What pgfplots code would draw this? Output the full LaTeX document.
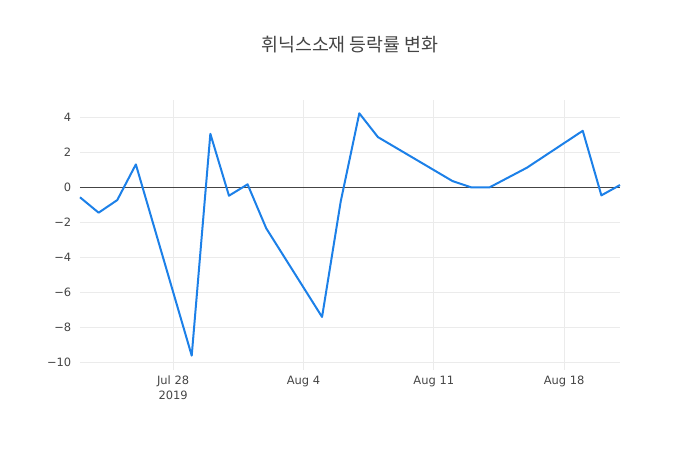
\documentclass[border=0pt]{standalone}
\usepackage{fontspec}
\setmainfont{DejaVu Sans}
\newfontfamily\cjk{Noto Sans CJK KR}
\usepackage{pgfplots}
\pgfplotsset{compat=1.18}
\definecolor{linec}{RGB}{28,128,232}
\definecolor{txt}{RGB}{68,68,68}
\definecolor{gridc}{RGB}{235,235,235}
\begin{document}
\begin{tikzpicture}
% 1px = 0.75pt; page 700x450px, plot area 540x270px at (80,80)
\useasboundingbox (-60pt,-60pt) rectangle (465pt,277.5pt);
\begin{axis}[
    at={(0,0)}, anchor=south west,
    scale only axis, width=405pt, height=202.5pt,
    xmin=-5, xmax=24, ymin=-10.44, ymax=4.99,
    axis line style={draw=none},
    tick style={draw=none},
    xtick={0,7,14,21},
    xticklabels={Jul 28\\2019, Aug 4, Aug 11, Aug 18},
    xticklabel style={align=center, font=\fontsize{8.6}{11}\selectfont, text=txt, yshift=-1pt},
    ytick={-10,-8,...,4},
    yticklabels={−10,−8,−6,−4,−2,0,2,4},
    yticklabel style={font=\fontsize{8.6}{11}\selectfont, text=txt, xshift=-3pt},
    grid=major, major grid style={gridc, line width=0.75pt},
    clip=false,
]
\addplot[txt, line width=0.75pt, forget plot] coordinates {(-5,0) (24,0)};
\addplot[linec, line width=1.5pt, mark=none, line join=round] coordinates {
    (-5,-0.57) (-4,-1.45) (-3,-0.73) (-2,1.31)
    (1,-9.62) (2,3.06) (3,-0.48) (4,0.17) (5,-2.34)
    (8,-7.41) (9,-0.82) (10,4.23) (11,2.87)
    (15,0.36) (16,0) (17,0) (19,1.12)
    (22,3.23) (23,-0.46) (24,0.13)
};
\end{axis}
\node[text=txt, font=\cjk\fontsize{13.8}{16}\selectfont] at (202.5pt,243.75pt) {휘닉스소재 등락률 변화};
\end{tikzpicture}
\end{document}
